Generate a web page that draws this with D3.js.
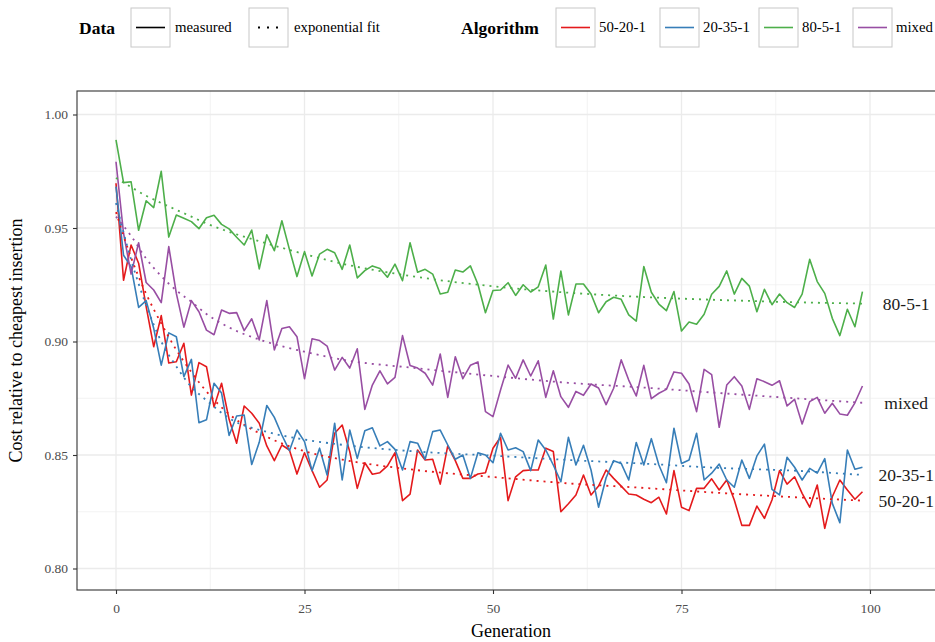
<!DOCTYPE html>
<html lang="en">
<head>
<meta charset="UTF-8">
<title>Cost relative to cheapest insertion</title>
<script src="https://d3js.org/d3.v7.min.js"></script>
<style>
    body { margin: 0; background: #fff; }
    svg { display: block; font-family: "Liberation Serif", "DejaVu Serif", serif; }
</style>
</head>
<body>
<svg id="chart" width="935" height="642"></svg>
<script>
// Data
const generations = d3.range(100);
const algorithms = ["50-20-1", "20-35-1", "80-5-1", "mixed"];
const algorithmColors = ["#e41a1c", "#377eb8", "#4daf4a", "#984ea3"];

const cost50_20_1 = [
    0.9697, 0.927, 0.9425, 0.9345, 0.9154, 0.8977, 0.9114, 0.8905, 0.8911, 0.8992,
    0.8764, 0.8907, 0.8889, 0.8712, 0.8816, 0.8657, 0.8552, 0.8716, 0.8684, 0.864,
    0.854, 0.8475, 0.8544, 0.8522, 0.8416, 0.851, 0.8431, 0.8358, 0.839, 0.8596,
    0.8632, 0.8515, 0.8353, 0.8466, 0.8415, 0.8422, 0.8452, 0.851, 0.8299, 0.8328,
    0.8522, 0.8478, 0.8481, 0.8372, 0.854, 0.8475, 0.8397, 0.8397, 0.8416, 0.8422,
    0.853, 0.8578, 0.8299, 0.8404, 0.8431, 0.8434, 0.8434, 0.853, 0.8515, 0.825,
    0.8285, 0.8324, 0.8412, 0.8324, 0.8363, 0.8434, 0.8397, 0.8363, 0.8328, 0.8324,
    0.8305, 0.829, 0.8314, 0.824, 0.8431, 0.827, 0.8255, 0.8353, 0.8353, 0.8395,
    0.8346, 0.839, 0.8302, 0.819, 0.819, 0.8275, 0.8221, 0.8302, 0.8431, 0.8372,
    0.8404, 0.8331, 0.827, 0.8368, 0.8177, 0.8316, 0.839, 0.8346, 0.8305, 0.8338
];
const cost20_35_1 = [
    0.9682, 0.938, 0.933, 0.915, 0.918, 0.9058, 0.8896, 0.9038, 0.9021, 0.8845,
    0.8921, 0.8642, 0.8655, 0.8816, 0.8773, 0.8586, 0.8672, 0.8676, 0.8458, 0.8556,
    0.8718, 0.8666, 0.8588, 0.8519, 0.861, 0.8559, 0.8431, 0.853, 0.8412, 0.864,
    0.839, 0.861, 0.8485, 0.8607, 0.862, 0.854, 0.8559, 0.8525, 0.8434, 0.8559,
    0.8552, 0.8481, 0.8603, 0.861, 0.8544, 0.8481, 0.85, 0.8397, 0.851, 0.85,
    0.8466, 0.8596, 0.8522, 0.8532, 0.8515, 0.8431, 0.8566, 0.8522, 0.8456, 0.8382,
    0.8578, 0.8456, 0.8543, 0.8434, 0.827, 0.840, 0.8475, 0.8463, 0.839, 0.8555,
    0.8456, 0.8572, 0.8456, 0.8378, 0.8618, 0.8463, 0.8478, 0.8596, 0.839, 0.842,
    0.846, 0.839, 0.8358, 0.8478, 0.8397, 0.8496, 0.8548, 0.8349, 0.8324, 0.849,
    0.8446, 0.839, 0.8441, 0.842, 0.8484, 0.8287, 0.8202, 0.8522, 0.8437, 0.8446
];
const cost80_5_1 = [
    0.9888, 0.970, 0.9704, 0.949, 0.962, 0.959, 0.975, 0.946, 0.9557, 0.9543,
    0.9528, 0.9497, 0.9545, 0.9556, 0.9516, 0.9496, 0.9459, 0.9425, 0.9491, 0.932,
    0.947, 0.940, 0.9532, 0.9406, 0.9286, 0.9396, 0.9289, 0.9385, 0.9406, 0.9391,
    0.9318, 0.9425, 0.928, 0.9312, 0.9333, 0.9322, 0.9283, 0.9341, 0.9268, 0.9435,
    0.9305, 0.9318, 0.9297, 0.9209, 0.9217, 0.9315, 0.9306, 0.9333, 0.9252, 0.9127,
    0.9225, 0.9227, 0.9259, 0.9203, 0.925, 0.9218, 0.9241, 0.9337, 0.9099, 0.931,
    0.9117, 0.9253, 0.9253, 0.9209, 0.9127, 0.9175, 0.9195, 0.9186, 0.9117, 0.909,
    0.933, 0.9217, 0.9165, 0.9136, 0.922, 0.9046, 0.9086, 0.9076, 0.912, 0.9208,
    0.9243, 0.9311, 0.9209, 0.9278, 0.9244, 0.9131, 0.923, 0.9162, 0.9209, 0.9171,
    0.915, 0.9209, 0.9362, 0.9264, 0.9212, 0.9102, 0.9026, 0.9142, 0.9065, 0.922
];
const costMixed = [
    0.9792, 0.9477, 0.9297, 0.9435, 0.926, 0.9227, 0.9171, 0.9418, 0.9212, 0.9063,
    0.918, 0.9131, 0.905, 0.903, 0.9139, 0.9124, 0.9127, 0.9048, 0.91, 0.9007,
    0.918, 0.8963, 0.9057, 0.9065, 0.9021, 0.8836, 0.9012, 0.9004, 0.898, 0.8874,
    0.893, 0.8883, 0.8968, 0.8701, 0.8808, 0.8871, 0.8813, 0.8842, 0.9026, 0.8894,
    0.8883, 0.886, 0.8808, 0.8945, 0.8754, 0.8933, 0.8836, 0.8895, 0.891, 0.8691,
    0.8669, 0.8786, 0.8896, 0.8838, 0.8919, 0.8848, 0.8915, 0.8754, 0.8871, 0.8757,
    0.871, 0.878, 0.8763, 0.8813, 0.8795, 0.8722, 0.8794, 0.8919, 0.883, 0.876,
    0.8895, 0.8748, 0.8772, 0.8789, 0.8866, 0.886, 0.8813, 0.8691, 0.8877, 0.8854,
    0.8622, 0.8808, 0.8845, 0.8804, 0.8701, 0.8836, 0.8823, 0.8807, 0.8827, 0.8716,
    0.8745, 0.8637, 0.8735, 0.8754, 0.8684, 0.8728, 0.8681, 0.8675, 0.873, 0.8804
];

// exponential fit curves, read at a few generations
const fitGenerations = [0, 2, 4, 6, 8, 10, 12, 15, 20, 25, 30, 40, 50, 60, 70, 80, 90, 99];
const fit50_20_1 = [0.957, 0.937, 0.921, 0.908, 0.8963, 0.8865, 0.878, 0.868, 0.858, 0.8517, 0.848, 0.8433, 0.8403, 0.8375, 0.8355, 0.8333, 0.8314, 0.8299];
const fit20_35_1 = [0.961, 0.936, 0.916, 0.9, 0.889, 0.880, 0.8741, 0.8662, 0.8602, 0.8568, 0.8545, 0.8515, 0.8497, 0.8478, 0.8462, 0.8443, 0.8431, 0.8412];
const fit80_5_1 = [0.972, 0.968, 0.9642, 0.961, 0.958, 0.955, 0.952, 0.9483, 0.9432, 0.9385, 0.9343, 0.9284, 0.9243, 0.9215, 0.9196, 0.9183, 0.9173, 0.9167];
const fitMixed = [0.955, 0.9465, 0.9365, 0.9288, 0.9225, 0.9175, 0.9121, 0.9062, 0.8998, 0.8955, 0.892, 0.8882, 0.8848, 0.8818, 0.8797, 0.8773, 0.875, 0.873];

const xTicks = [0, 25, 50, 75, 100];
const yTicks = [0.80, 0.85, 0.90, 0.95, 1.00];
const xMinor = [12.5, 37.5, 62.5, 87.5];
const yMinor = [0.825, 0.875, 0.925, 0.975];

const measured = [cost50_20_1, cost20_35_1, cost80_5_1, costMixed];
const fits = [fit50_20_1, fit20_35_1, fit80_5_1, fitMixed];

// Layout
const panel = { left: 77, right: 945, top: 91, bottom: 590 };
const x = d3.scaleLinear().domain([0, 100]).range([116, 870]);
const y = d3.scaleLinear().domain([0.80, 1.00]).range([568.5, 114.5]);

const svg = d3.select("#chart");

// grid
const grid = svg.append("g");
grid.selectAll(".minx").data(xMinor).enter().append("line")
    .attr("x1", d => x(d)).attr("x2", d => x(d))
    .attr("y1", panel.top).attr("y2", panel.bottom)
    .attr("stroke", "#f0f0f0").attr("stroke-width", 0.8);
grid.selectAll(".miny").data(yMinor).enter().append("line")
    .attr("x1", panel.left).attr("x2", panel.right)
    .attr("y1", d => y(d)).attr("y2", d => y(d))
    .attr("stroke", "#f0f0f0").attr("stroke-width", 0.8);
grid.selectAll(".majx").data(xTicks).enter().append("line")
    .attr("x1", d => x(d)).attr("x2", d => x(d))
    .attr("y1", panel.top).attr("y2", panel.bottom)
    .attr("stroke", "#ebebeb").attr("stroke-width", 1.3);
grid.selectAll(".majy").data(yTicks).enter().append("line")
    .attr("x1", panel.left).attr("x2", panel.right)
    .attr("y1", d => y(d)).attr("y2", d => y(d))
    .attr("stroke", "#ebebeb").attr("stroke-width", 1.3);

// measured lines
const line = d3.line()
    .x((d, i) => x(generations[i]))
    .y(d => y(d));

svg.append("g").selectAll("path").data(measured).enter().append("path")
    .attr("d", line)
    .attr("fill", "none")
    .attr("stroke", (d, i) => algorithmColors[i])
    .attr("stroke-width", 1.6)
    .attr("stroke-linejoin", "round");

// fit lines (dotted)
const fitLine = d3.line()
    .x((d, i) => x(fitGenerations[i]))
    .y(d => y(d))
    .curve(d3.curveMonotoneX);

svg.append("g").selectAll("path").data(fits).enter().append("path")
    .attr("d", fitLine)
    .attr("fill", "none")
    .attr("stroke", (d, i) => algorithmColors[i])
    .attr("stroke-width", 1.8)
    .attr("stroke-dasharray", "2,5");

// labels at the end of each fit
svg.append("g").selectAll("text").data(fits).enter().append("text")
    .attr("x", x(104.8))
    .attr("y", d => y(d[d.length - 1]))
    .attr("dy", "0.35em")
    .attr("text-anchor", "middle")
    .attr("font-size", 17.5)
    .attr("fill", "#1a1a1a")
    .text((d, i) => algorithms[i]);

// panel border
svg.append("rect")
    .attr("x", panel.left).attr("y", panel.top)
    .attr("width", panel.right - panel.left).attr("height", panel.bottom - panel.top)
    .attr("fill", "none").attr("stroke", "#333").attr("stroke-width", 1.1);

// axes
const xAxis = svg.append("g")
    .attr("transform", `translate(0,${panel.bottom})`)
    .call(d3.axisBottom(x).tickValues(xTicks).tickSize(4).tickPadding(9).tickFormat(d3.format("d")));
const yAxis = svg.append("g")
    .attr("transform", `translate(${panel.left},0)`)
    .call(d3.axisLeft(y).tickValues(yTicks).tickSize(4).tickPadding(5).tickFormat(d3.format(".2f")));

[xAxis, yAxis].forEach(a => {
    a.select(".domain").remove();
    a.selectAll(".tick line").attr("stroke", "#333").attr("stroke-width", 1.1);
    a.selectAll(".tick text")
        .attr("fill", "#4d4d4d")
        .style("font-family", "'Liberation Serif', serif")
        .style("font-size", "13.5px");
});

// axis titles
svg.append("text")
    .attr("x", 511).attr("y", 637)
    .attr("text-anchor", "middle")
    .attr("font-size", 18)
    .text("Generation");
svg.append("text")
    .attr("transform", `translate(22,${(panel.top + panel.bottom) / 2}) rotate(-90)`)
    .attr("text-anchor", "middle")
    .attr("font-size", 18)
    .text("Cost relative to cheapest insertion");

// legend
const legend = svg.append("g");
const keyTop = 8, keySize = 39;

function legendKey(kx, drawKey) {
    legend.append("rect")
        .attr("x", kx).attr("y", keyTop)
        .attr("width", keySize).attr("height", keySize)
        .attr("fill", "#fff").attr("stroke", "#c8c8c8").attr("stroke-width", 1);
    drawKey(legend, kx + 5, kx + keySize - 5, keyTop + keySize / 2);
}
function legendLabel(lx, label) {
    legend.append("text")
        .attr("x", lx).attr("y", keyTop + keySize / 2).attr("dy", "0.33em")
        .attr("font-size", 14.8)
        .text(label);
}
function legendTitle(lx, label) {
    legend.append("text")
        .attr("x", lx).attr("y", keyTop + keySize / 2).attr("dy", "0.35em")
        .attr("font-size", 17.5).attr("font-weight", "bold")
        .text(label);
}

legendTitle(79, "Data");
legendKey(131, (g, x1, x2, cy) => g.append("line")
    .attr("x1", x1).attr("x2", x2).attr("y1", cy).attr("y2", cy)
    .attr("stroke", "#000").attr("stroke-width", 1.6));
legendLabel(175, "measured");
legendKey(249, (g, x1, x2, cy) => g.append("line")
    .attr("x1", x1 + 4).attr("x2", x2).attr("y1", cy).attr("y2", cy)
    .attr("stroke", "#000").attr("stroke-width", 1.8).attr("stroke-dasharray", "2,7"));
legendLabel(294, "exponential fit");

legendTitle(461, "Algorithm");
const algoKeyX = [556, 660, 759, 853];
algorithms.forEach((name, i) => {
    legendKey(algoKeyX[i], (g, x1, x2, cy) => g.append("line")
        .attr("x1", x1).attr("x2", x2).attr("y1", cy).attr("y2", cy)
        .attr("stroke", algorithmColors[i]).attr("stroke-width", 1.6));
    legendLabel(algoKeyX[i] + 43, name);
});
</script>
</body>
</html>
